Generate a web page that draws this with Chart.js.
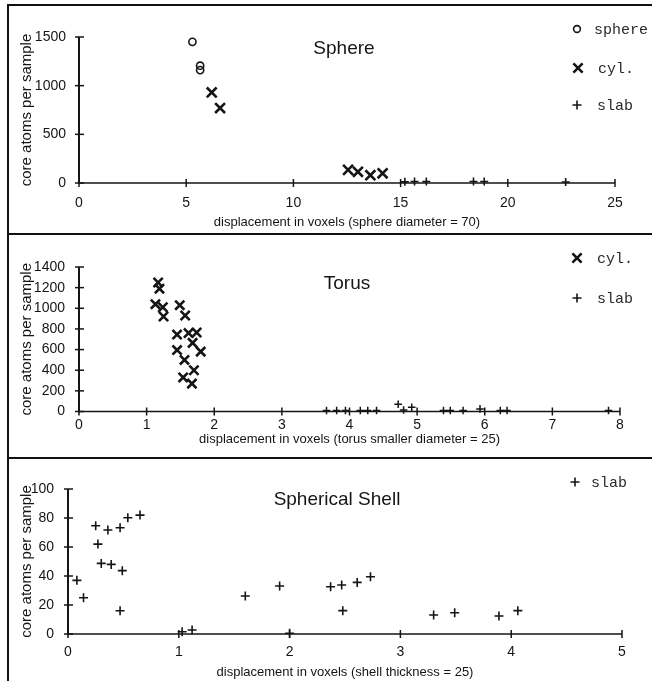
<!DOCTYPE html>
<html><head><meta charset="utf-8">
<script src="https://cdn.jsdelivr.net/npm/chart.js@4.4.1/dist/chart.umd.min.js"></script>
<style>
html,body{margin:0;padding:0;background:#fff;}
body{width:652px;height:681px;position:relative;overflow:hidden;}
.panel{position:absolute;left:0;width:652px;}
.panel canvas{display:block;}
.frame{position:absolute;background:#111;}
</style></head><body>
<div class="panel" style="top:0;height:234px"><canvas id="c1" width="652" height="234"></canvas></div>
<div class="panel" style="top:234px;height:224px"><canvas id="c2" width="652" height="224"></canvas></div>
<div class="panel" style="top:458px;height:223px"><canvas id="c3" width="652" height="223"></canvas></div>
<div class="frame" style="left:7px;top:4px;width:2px;height:677px"></div>
<div class="frame" style="left:7px;top:4px;width:645px;height:2px"></div>
<div class="frame" style="left:7px;top:233px;width:645px;height:2px"></div>
<div class="frame" style="left:7px;top:457px;width:645px;height:2px"></div>
<script>
// ---------- Data ----------
// Panel 1: Sphere (sphere diameter = 70)
const sphereX = [5.29, 5.65, 5.65];
const sphereY = [1450, 1205, 1160];
const cylSphereX = [6.19, 6.58, 12.55, 13.01, 13.59, 14.16];
const cylSphereY = [930, 770, 135, 115, 80, 100];
const slabSphereX = [15.2, 15.65, 16.2, 18.4, 18.9, 22.7];
const slabSphereY = [12, 15, 15, 15, 15, 10];
const xTicks1 = [0, 5, 10, 15, 20, 25];
const yTicks1 = [0, 500, 1000, 1500];

// Panel 2: Torus (torus smaller diameter = 25)
const cylTorusX = [1.17, 1.19, 1.13, 1.24, 1.25, 1.49, 1.57, 1.45, 1.62, 1.74, 1.68, 1.45, 1.80, 1.56, 1.70, 1.54, 1.67];
const cylTorusY = [1250, 1190, 1040, 1010, 920, 1030, 930, 745, 760, 765, 665, 595, 580, 500, 400, 330, 270];
const slabTorusX = [3.66, 3.81, 3.94, 4.16, 4.27, 4.40, 4.72, 4.80, 4.92, 5.39, 5.49, 5.68, 5.93, 6.23, 6.33, 7.83];
const slabTorusY = [10, 10, 10, 10, 10, 10, 70, 15, 40, 10, 10, 10, 25, 10, 10, 10];
const xTicks2 = [0, 1, 2, 3, 4, 5, 6, 7, 8];
const yTicks2 = [0, 200, 400, 600, 800, 1000, 1200, 1400];

// Panel 3: Spherical Shell (shell thickness = 25)
const slabShellX = [0.08, 0.14, 0.25, 0.27, 0.30, 0.36, 0.39, 0.47, 0.49, 0.47, 0.54, 0.65, 1.03, 1.12, 1.60, 1.91, 2.00, 2.37, 2.47, 2.48, 2.61, 2.73, 3.30, 3.49, 3.89, 4.06];
const slabShellY = [37, 25, 74.7, 62, 48.7, 71.7, 48, 73.3, 43.7, 16, 80.2, 82, 1.6, 2.8, 26.2, 33.1, 0.5, 32.6, 33.8, 16.1, 35.6, 39.5, 13.1, 14.7, 12.4, 16.1];
const xTicks3 = [0, 1, 2, 3, 4, 5];
const yTicks3 = [0, 20, 40, 60, 80, 100];

const yTitle = 'core atoms per sample';
const xTitle1 = 'displacement in voxels (sphere diameter = 70)';
const xTitle2 = 'displacement in voxels (torus smaller diameter = 25)';
const xTitle3 = 'displacement in voxels (shell thickness = 25)';

// ---------- Helpers ----------
const INK = '#151515';
const SANS = '"Liberation Sans", Arial, sans-serif';
const MONO = '"Liberation Mono", "Courier New", monospace';

function pts(xs, ys) { return xs.map((x, i) => ({ x: x, y: ys[i] })); }

function drawMarker(ctx, type, x, y, r, lw) {
  ctx.save();
  ctx.strokeStyle = INK; ctx.lineWidth = lw; ctx.lineCap = 'butt';
  ctx.beginPath();
  if (type === 'circle') {
    ctx.arc(x, y, r, 0, Math.PI * 2);
  } else if (type === 'crossRot') {
    const d = r * Math.SQRT1_2;
    ctx.moveTo(x - d, y - d); ctx.lineTo(x + d, y + d);
    ctx.moveTo(x - d, y + d); ctx.lineTo(x + d, y - d);
  } else {
    ctx.moveTo(x - r, y); ctx.lineTo(x + r, y);
    ctx.moveTo(x, y - r); ctx.lineTo(x, y + r);
  }
  ctx.stroke();
  ctx.restore();
}

const axesPlugin = {
  id: 'axesPlugin',
  beforeDatasetsDraw(chart) {
    const { ctx, chartArea: a, scales: { x, y } } = chart;
    ctx.save();
    ctx.strokeStyle = INK;
    ctx.lineWidth = 2;
    ctx.beginPath(); ctx.moveTo(a.left, a.top); ctx.lineTo(a.left, a.bottom + 1); ctx.stroke();
    ctx.lineWidth = 1.5;
    ctx.beginPath(); ctx.moveTo(a.left, a.bottom); ctx.lineTo(a.right, a.bottom); ctx.stroke();
    y.ticks.forEach(t => {
      const p = y.getPixelForValue(t.value);
      ctx.beginPath(); ctx.moveTo(a.left - 4, p); ctx.lineTo(a.left + 5, p); ctx.stroke();
    });
    x.ticks.forEach(t => {
      const p = x.getPixelForValue(t.value);
      ctx.beginPath(); ctx.moveTo(p, a.bottom - 4); ctx.lineTo(p, a.bottom + 4); ctx.stroke();
    });
    ctx.restore();
  },
  afterDraw(chart) {
    const o = chart.options.plugins.decor;
    const ctx = chart.ctx;
    ctx.save();
    ctx.fillStyle = INK;
    ctx.font = '19px ' + SANS;
    ctx.textAlign = 'center'; ctx.textBaseline = 'middle';
    ctx.fillText(o.title, o.titleX, o.titleY);
    ctx.font = '15px ' + MONO;
    ctx.fillStyle = '#2a2a2a';
    ctx.textAlign = 'left';
    o.legend.forEach(it => {
      drawMarker(ctx, it.type, it.mx, it.y, it.r, it.lw);
      ctx.fillText(it.text, it.tx, it.y + 1);
    });
    ctx.restore();
  }
};

function makeChart(id, c) {
  const H = document.getElementById(id).height;
  return new Chart(document.getElementById(id), {
    type: 'scatter',
    data: { datasets: c.datasets },
    options: {
      responsive: false,
      animation: false,
      events: [],
      layout: { padding: { left: 0, top: c.top, right: 652 - c.right, bottom: 0 } },
      plugins: {
        legend: { display: false },
        tooltip: { enabled: false },
        title: { display: false },
        decor: c.decor
      },
      scales: {
        x: {
          type: 'linear', position: 'bottom', min: c.xTicks[0], max: c.xTicks[c.xTicks.length - 1],
          afterBuildTicks: s => { s.ticks = c.xTicks.map(v => ({ value: v })); },
          ticks: { color: INK, font: { family: SANS, size: 14 }, padding: c.xPad, maxRotation: 0, autoSkip: false,
                   callback: v => String(v) },
          grid: { display: false, drawTicks: false },
          border: { display: false },
          title: { display: true, text: c.xTitle, color: INK, font: { family: SANS, size: 13 }, padding: { top: 0, bottom: c.xTitlePad } },
          afterFit: s => { s.height = H - c.bottom; }
        },
        y: {
          type: 'linear', position: 'left', min: c.yTicks[0], max: c.yTicks[c.yTicks.length - 1],
          afterBuildTicks: s => { s.ticks = c.yTicks.map(v => ({ value: v })); },
          ticks: { color: INK, font: { family: SANS, size: 14 }, padding: c.yPad, autoSkip: false,
                   callback: v => String(v) },
          grid: { display: false, drawTicks: false },
          border: { display: false },
          title: { display: true, text: yTitle, color: INK, font: { family: SANS, size: 15 }, padding: { top: 18, bottom: 0 } },
          afterFit: s => { s.width = c.left; }
        }
      }
    },
    plugins: [axesPlugin]
  });
}

function ds(label, data, style, r, lw) {
  return { label: label, data: data, pointStyle: style, pointRadius: r, pointBorderWidth: lw,
           borderColor: INK, backgroundColor: 'rgba(0,0,0,0)', showLine: false, clip: false };
}

makeChart('c1', {
  top: 37, bottom: 183, left: 79, right: 615,
  xTicks: xTicks1, yTicks: yTicks1, xPad: 12, yPad: 13, xTitle: xTitle1, xTitlePad: 4,
  datasets: [
    ds('sphere', pts(sphereX, sphereY), 'circle', 3.6, 1.6),
    ds('cyl.', pts(cylSphereX, cylSphereY), 'crossRot', 7, 2.6),
    ds('slab', pts(slabSphereX, slabSphereY), 'cross', 4, 1.6)
  ],
  decor: {
    title: 'Sphere', titleX: 344, titleY: 49,
    legend: [
      { type: 'circle', mx: 577, tx: 594, y: 29, r: 3.4, lw: 1.6, text: 'sphere' },
      { type: 'crossRot', mx: 578, tx: 598, y: 68, r: 6.5, lw: 2.6, text: 'cyl.' },
      { type: 'cross', mx: 577, tx: 597, y: 105, r: 4.5, lw: 1.6, text: 'slab' }
    ]
  }
});

makeChart('c2', {
  top: 33, bottom: 177.5, left: 79, right: 620,
  xTicks: xTicks2, yTicks: yTicks2, xPad: 5, yPad: 14, xTitle: xTitle2, xTitlePad: 11,
  datasets: [
    ds('cyl.', pts(cylTorusX, cylTorusY), 'crossRot', 6.5, 2.6),
    ds('slab', pts(slabTorusX, slabTorusY), 'cross', 3.8, 1.5)
  ],
  decor: {
    title: 'Torus', titleX: 347, titleY: 50,
    legend: [
      { type: 'crossRot', mx: 577, tx: 597, y: 24, r: 6.5, lw: 2.6, text: 'cyl.' },
      { type: 'cross', mx: 577, tx: 597, y: 64, r: 4.5, lw: 1.6, text: 'slab' }
    ]
  }
});

makeChart('c3', {
  top: 31, bottom: 176, left: 68, right: 622,
  xTicks: xTicks3, yTicks: yTicks3, xPad: 10, yPad: 14, xTitle: xTitle3, xTitlePad: 1,
  datasets: [
    ds('slab', pts(slabShellX, slabShellY), 'cross', 4.5, 1.6)
  ],
  decor: {
    title: 'Spherical Shell', titleX: 337, titleY: 42,
    legend: [
      { type: 'cross', mx: 575, tx: 591, y: 24, r: 4.5, lw: 1.6, text: 'slab' }
    ]
  }
});
</script>
</body></html>
